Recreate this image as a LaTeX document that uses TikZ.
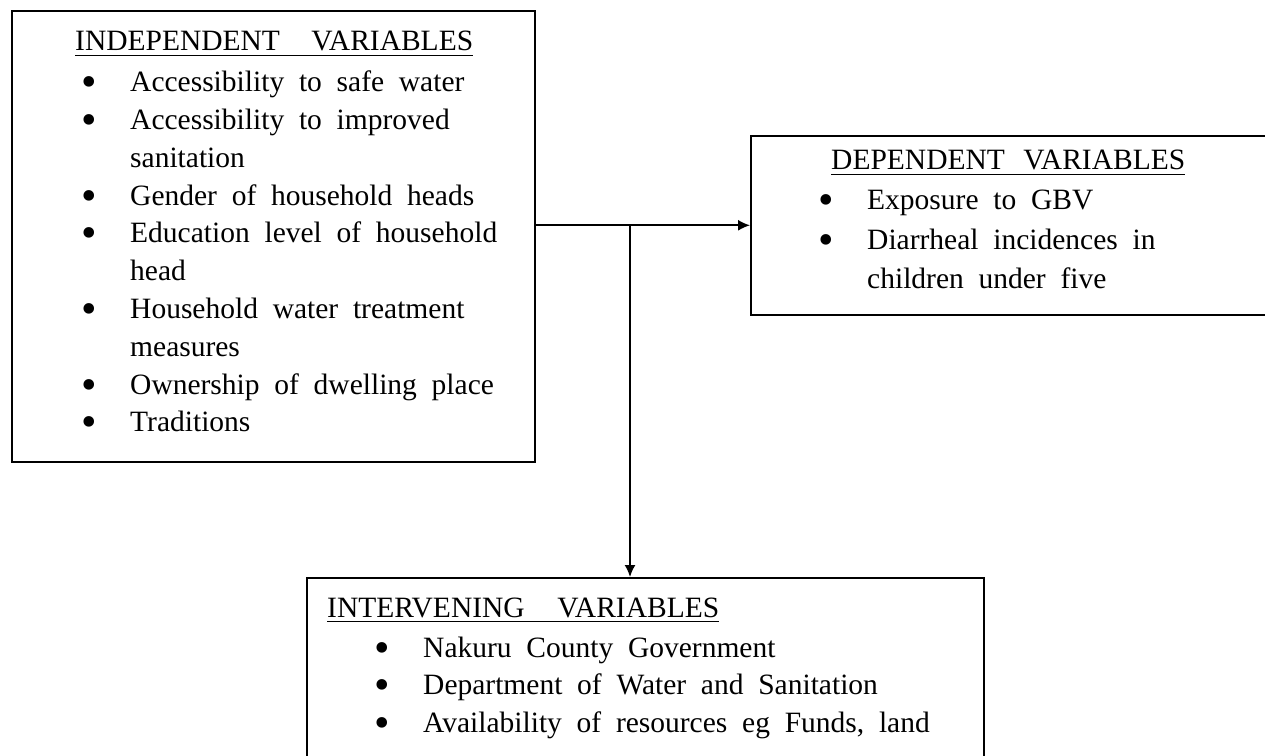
\documentclass[tikz,border=0pt]{standalone}
\usepackage{fontspec}
\setmainfont{Liberation Serif}
\usetikzlibrary{positioning,arrows.meta}

\newcommand{\bul}{\llap{\raisebox{-5pt}{\scalebox{1.5}{\textbullet}}\hspace{33pt}}}
\newcommand{\vtitle}[2]{\setbox0=\hbox{\spaceskip 0.3em plus 1fil\makebox[#1][s]{#2}}\rlap{\rule[-5pt]{\wd0}{1.4pt}}\box0}
\DeclareRobustCommand{\listfont}[1]{\fontsize{29.5}{#1}\selectfont\spaceskip 0.5em\relax}

\tikzset{
  varbox/.style={draw, line width=1.6pt, inner sep=0pt, anchor=north west},
  vartitle/.style={anchor=base west, inner sep=0pt, font=\listfont{37.8pt}},
  varlist/.style={anchor=base west, inner sep=0pt, align=left, font=\listfont{#1}},
  conn/.style={line width=1.6pt, -{Latex[length=12pt,width=11pt]}}
}

\begin{document}
\begin{tikzpicture}[x=1pt,y=1pt]
\clip (0,0) rectangle (1265,755);

% boxes
\node[varbox, minimum width=523pt, minimum height=451pt] (indep) at (11,745) {};
\node[varbox, minimum width=560pt, minimum height=179pt] (dep) at (750,620) {};
\node[varbox, minimum width=677pt, minimum height=200pt] (interv) at (306,178) {};

% titles
\node[vartitle] (indeptitle) at (75,704) {\vtitle{398pt}{INDEPENDENT VARIABLES}};
\node[vartitle] (deptitle) at (831,585) {\vtitle{354pt}{DEPENDENT VARIABLES}};
\node[vartitle] (intervtitle) at (327,138) {\vtitle{392pt}{INTERVENING VARIABLES}};

% lists (base = last line)
\node[varlist=37.8pt] (indeplist) at (130,323) {\bul Accessibility to safe water\\ \bul Accessibility to improved\\ sanitation\\ \bul Gender of household heads\\ \bul Education level of household\\ head\\ \bul Household water treatment\\ measures\\ \bul Ownership of dwelling place\\ \bul Traditions};
\node[varlist=39.5pt] (deplist) at (867,466) {\bul Exposure to GBV\\ \bul Diarrheal incidences in\\ children under five};
\node[varlist=37.5pt] (intervlist) at (423,23) {\bul Nakuru County Government\\ \bul Department of Water and Sanitation\\ \bul Availability of resources eg Funds, land};

% arrows
\coordinate (split) at (630,530);
\draw[conn] (indep.east |- dep.west) -- (dep.west);
\draw[conn] (split) -- (split |- interv.north);
\end{tikzpicture}
\end{document}
